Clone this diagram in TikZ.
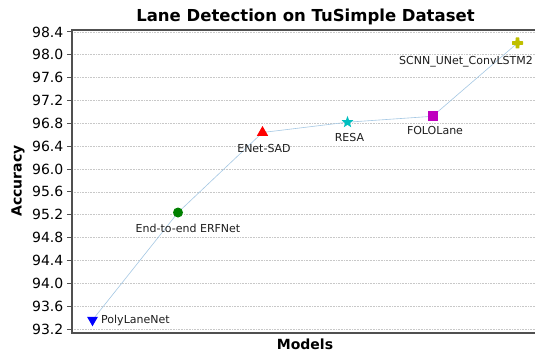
\documentclass[tikz,border=0pt]{standalone}
\usepackage{fontspec}
\setmainfont{DejaVu Sans}
\usetikzlibrary{shapes.geometric}
\definecolor{spinecol}{RGB}{80,80,80}
\definecolor{gridcol}{RGB}{200,200,200}
\definecolor{conncol}{RGB}{165,200,228}
\definecolor{mblue}{RGB}{0,0,255}
\definecolor{mgreen}{RGB}{0,128,0}
\definecolor{mred}{RGB}{255,0,0}
\definecolor{mcyan}{RGB}{0,191,191}
\definecolor{mmag}{RGB}{191,0,191}
\definecolor{molive}{RGB}{191,191,0}
\definecolor{txtcol}{RGB}{30,30,30}
\begin{document}
\begin{tikzpicture}[x=1pt,y=-1pt,
  gridline/.style={gridcol,line width=0.6pt,dash pattern=on 0.8pt off 0.8pt},
  tickmark/.style={spinecol,line width=0.9pt},
  spineline/.style={spinecol,line width=1.6pt},
  ticklab/.style={anchor=east,inner sep=0pt,font=\fontsize{14}{16}\selectfont},
  annot/.style={inner sep=0pt,text=txtcol,font=\fontsize{11}{13}\selectfont},
  axlab/.style={inner sep=0pt,font=\fontsize{14}{16}\selectfont\bfseries},
  connector/.style={conncol,line width=0.6pt},
  mk/.style={inner sep=0pt,draw=none}
]
\useasboundingbox (0,0) rectangle (535,353);
\fill[white] (0,0) rectangle (535,353);
% grid, ticks, tick labels
\foreach \i/\lab in {0/93.2,1/93.6,2/94.0,3/94.4,4/94.8,5/95.2,6/95.6,7/96.0,8/96.4,9/96.8,10/97.2,11/97.6,12/98.0,13/98.4}{
  \pgfmathsetmacro\yy{329-\i*22.85}
  \draw[gridline] (72,\yy) -- (535,\yy);
  \draw[tickmark] (67,\yy) -- (72,\yy);
  \node[ticklab] (t\i) at (63.5,\yy) {\lab};
}
% spines
\draw[spineline] (535,30) -- (72,30) -- (72,333) -- (535,333);
% data
\coordinate (p1) at (92.5,320);
\coordinate (p2) at (178,212.5);
\coordinate (p3) at (262.5,132.5);
\coordinate (p4) at (347.5,122.2);
\coordinate (p5) at (432.5,116.3);
\coordinate (p6) at (517.5,43);
\draw[connector] (p1) -- (p2) -- (p3) -- (p4) -- (p5) -- (p6);
\node[mk,fill=mblue,regular polygon,regular polygon sides=3,shape border rotate=180,minimum size=12.5pt] (m1) at (p1) {};
\node[mk,fill=mgreen,circle,minimum size=10pt] (m2) at (p2) {};
\node[mk,fill=mred,regular polygon,regular polygon sides=3,minimum size=13pt] (m3) at (p3) {};
\node[mk,fill=mcyan,star,star points=5,star point ratio=2.4,minimum size=12.5pt] (m4) at (p4) {};
\node[mk,fill=mmag,rectangle,minimum size=10pt] (m5) at (p5) {};
\fill[molive,shift={(p6)},rounded corners=0.6pt] (-5.5,-1.9) -- (-1.9,-1.9) -- (-1.9,-5.5) -- (1.9,-5.5) -- (1.9,-1.9) -- (5.5,-1.9)
  -- (5.5,1.9) -- (1.9,1.9) -- (1.9,5.5) -- (-1.9,5.5) -- (-1.9,1.9) -- (-5.5,1.9) -- cycle;
% annotations
\node[annot,anchor=west] (a1) at (101,320.5) {PolyLaneNet};
\node[annot] (a2) at (188,228.5) {End-to-end ERFNet};
\node[annot] (a3) at (264,148.5) {ENet-SAD};
\node[annot] (a4) at (349.5,137.5) {RESA};
\node[annot] (a5) at (435,130.5) {FOLOLane};
\node[annot] (a6) at (466,61.5) {SCNN\_UNet\_ConvLSTM2};
% titles
\node[inner sep=0pt,anchor=base,font=\fontsize{16.5}{19}\selectfont\bfseries] (title) at (305.5,21.5) {Lane Detection on TuSimple Dataset};
\node[axlab,anchor=base] (xl) at (305,349) {Models};
\node[axlab,rotate=90] (yl) at (18,181) {Accuracy};
\end{tikzpicture}
\end{document}
